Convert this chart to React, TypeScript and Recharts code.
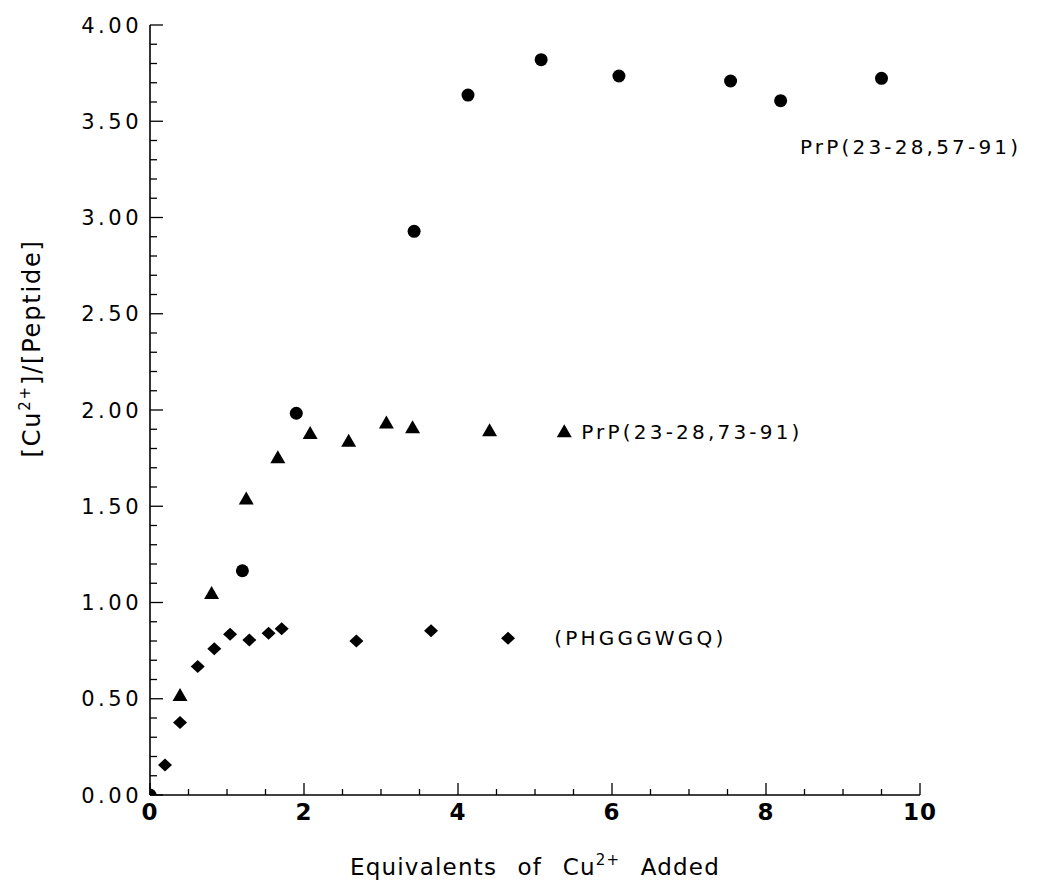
import React from "react";
import { ScatterChart, Scatter, XAxis, YAxis, ReferenceDot } from "recharts";

// PrP(23-28,57-91) — filled circles
const circleX = [0, 1.2, 1.9, 3.43, 4.13, 5.08, 6.09, 7.54, 8.19, 9.5];
const circleY = [0, 1.165, 1.983, 2.928, 3.636, 3.82, 3.735, 3.709, 3.607, 3.723];

// PrP(23-28,73-91) — filled triangles
const triX = [0, 0.39, 0.8, 1.25, 1.66, 2.08, 2.58, 3.07, 3.41, 4.41, 5.38];
const triY = [0, 0.52, 1.05, 1.54, 1.755, 1.88, 1.84, 1.935, 1.91, 1.895, 1.89];

// (PHGGGWGQ) — filled diamonds
const diaX = [0, 0.195, 0.39, 0.62, 0.835, 1.04, 1.29, 1.54, 1.71, 2.68, 3.65, 4.65];
const diaY = [0, 0.156, 0.376, 0.667, 0.76, 0.835, 0.805, 0.84, 0.864, 0.8, 0.853, 0.814];

const xTicks = [0, 0.5, 1, 1.5, 2, 2.5, 3, 3.5, 4, 4.5, 5, 5.5, 6, 6.5, 7, 7.5, 8, 8.5, 9, 9.5, 10];
const yTicks = [
  0, 0.1, 0.2, 0.3, 0.4, 0.5, 0.6, 0.7, 0.8, 0.9, 1, 1.1, 1.2, 1.3, 1.4, 1.5, 1.6, 1.7, 1.8, 1.9, 2,
  2.1, 2.2, 2.3, 2.4, 2.5, 2.6, 2.7, 2.8, 2.9, 3, 3.1, 3.2, 3.3, 3.4, 3.5, 3.6, 3.7, 3.8, 3.9, 4,
];

const seriesLabels = [
  { text: "PrP(23-28,57-91)", x: 8.44, y: 3.366 },
  { text: "PrP(23-28,73-91)", x: 5.6, y: 1.885 },
  { text: "(PHGGGWGQ)", x: 5.25, y: 0.815 },
];

const zip = (xs: number[], ys: number[]) => xs.map((x, i) => ({ x, y: ys[i] }));
const circles = zip(circleX, circleY);
const triangles = zip(triX, triY);
const diamonds = zip(diaX, diaY);

const FONT = "'DejaVu Sans', Verdana, sans-serif";

const CircleShape = (p: any) => <circle cx={p.cx} cy={p.cy} r={6.5} fill="#000" />;
const TriangleShape = (p: any) => (
  <polygon
    points={`${p.cx},${p.cy - 7} ${p.cx - 7.5},${p.cy + 6} ${p.cx + 7.5},${p.cy + 6}`}
    fill="#000"
  />
);
const DiamondShape = (p: any) => (
  <polygon
    points={`${p.cx},${p.cy - 6.5} ${p.cx + 7},${p.cy} ${p.cx},${p.cy + 6.5} ${p.cx - 7},${p.cy}`}
    fill="#000"
  />
);

const YTick = (props: any) => {
  const { x, y, payload } = props;
  const v = payload.value as number;
  const major = Math.round(v * 100) % 50 === 0;
  return (
    <g>
      <line x1={x} x2={x + (major ? 13 : 7)} y1={y} y2={y} stroke="#000" strokeWidth={1.3} />
      {major && (
        <text
          x={x - 8}
          y={y}
          dy={7.5}
          textAnchor="end"
          fontFamily={FONT}
          fontSize={21}
          fontWeight={500}
          letterSpacing={3.5}
          fill="#000"
        >
          {v.toFixed(2)}
        </text>
      )}
    </g>
  );
};

const XTick = (props: any) => {
  const { x, y, payload } = props;
  const v = payload.value as number;
  const major = Math.round(v * 10) % 20 === 0;
  return (
    <g>
      <line x1={x} x2={x} y1={y} y2={y - (major ? 12 : 6)} stroke="#000" strokeWidth={1.3} />
      {major && (
        <text
          x={x}
          y={y}
          dy={25}
          textAnchor="middle"
          fontFamily={FONT}
          fontSize={23}
          fontWeight={600}
          letterSpacing={1}
          fill="#000"
        >
          {v}
        </text>
      )}
    </g>
  );
};

const XTitle = (props: any) => {
  const vb = props.viewBox || {};
  const cx = (vb.x ?? 0) + (vb.width ?? 0) / 2;
  return (
    <text
      x={cx}
      y={(vb.y ?? 0) + 80}
      textAnchor="middle"
      fontFamily={FONT}
      fontSize={23}
      letterSpacing={1.2}
      wordSpacing={12}
      fill="#000"
    >
      Equivalents of Cu
      <tspan dy={-10} fontSize={15}>
        2+
      </tspan>
      <tspan dy={10}> Added</tspan>
    </text>
  );
};

const YTitle = (props: any) => {
  const vb = props.viewBox || {};
  const x = 32;
  const cy = (vb.y ?? 0) + (vb.height ?? 0) * 0.42;
  return (
    <text
      x={x}
      y={cy}
      transform={`rotate(-90, ${x}, ${cy})`}
      textAnchor="middle"
      fontFamily={FONT}
      fontSize={24}
      letterSpacing={1.8}
      fill="#000"
    >
      [Cu
      <tspan dy={-10} fontSize={15}>
        2+
      </tspan>
      <tspan dy={10}>]/[Peptide]</tspan>
    </text>
  );
};

const makeSeriesLabel = (text: string) => (props: any) => {
  const vb = props.viewBox || {};
  return (
    <text
      x={vb.x}
      y={vb.y}
      dy={7}
      textAnchor="start"
      fontFamily={FONT}
      fontSize={20}
      letterSpacing={3.2}
      fill="#000"
    >
      {text}
    </text>
  );
};

export default function App() {
  return (
    <div style={{ width: 1042, height: 883, background: "#fff" }}>
      <ScatterChart
        width={1042}
        height={883}
        margin={{ top: 17, right: 130, left: 12, bottom: 36 }}
      >
        <XAxis
          type="number"
          dataKey="x"
          domain={[0, 10]}
          ticks={xTicks}
          interval={0}
          tickSize={0}
          tickMargin={0}
          tickLine={false}
          tick={<XTick />}
          axisLine={{ stroke: "#000", strokeWidth: 1.6 }}
          height={60}
          allowDataOverflow
          label={{ content: <XTitle /> }}
        />
        <YAxis
          type="number"
          dataKey="y"
          domain={[0, 4]}
          ticks={yTicks}
          interval={0}
          tickSize={0}
          tickMargin={0}
          tickLine={false}
          tick={<YTick />}
          axisLine={{ stroke: "#000", strokeWidth: 1.6 }}
          width={130}
          allowDataOverflow
          label={{ content: <YTitle /> }}
        />
        <Scatter data={diamonds} shape={DiamondShape} isAnimationActive={false} />
        <Scatter data={triangles} shape={TriangleShape} isAnimationActive={false} />
        <Scatter data={circles} shape={CircleShape} isAnimationActive={false} />
        {seriesLabels.map((l) => (
          <ReferenceDot
            key={l.text}
            x={l.x}
            y={l.y}
            r={0}
            fill="none"
            stroke="none"
            ifOverflow="visible"
            label={{ content: makeSeriesLabel(l.text) }}
          />
        ))}
      </ScatterChart>
    </div>
  );
}
